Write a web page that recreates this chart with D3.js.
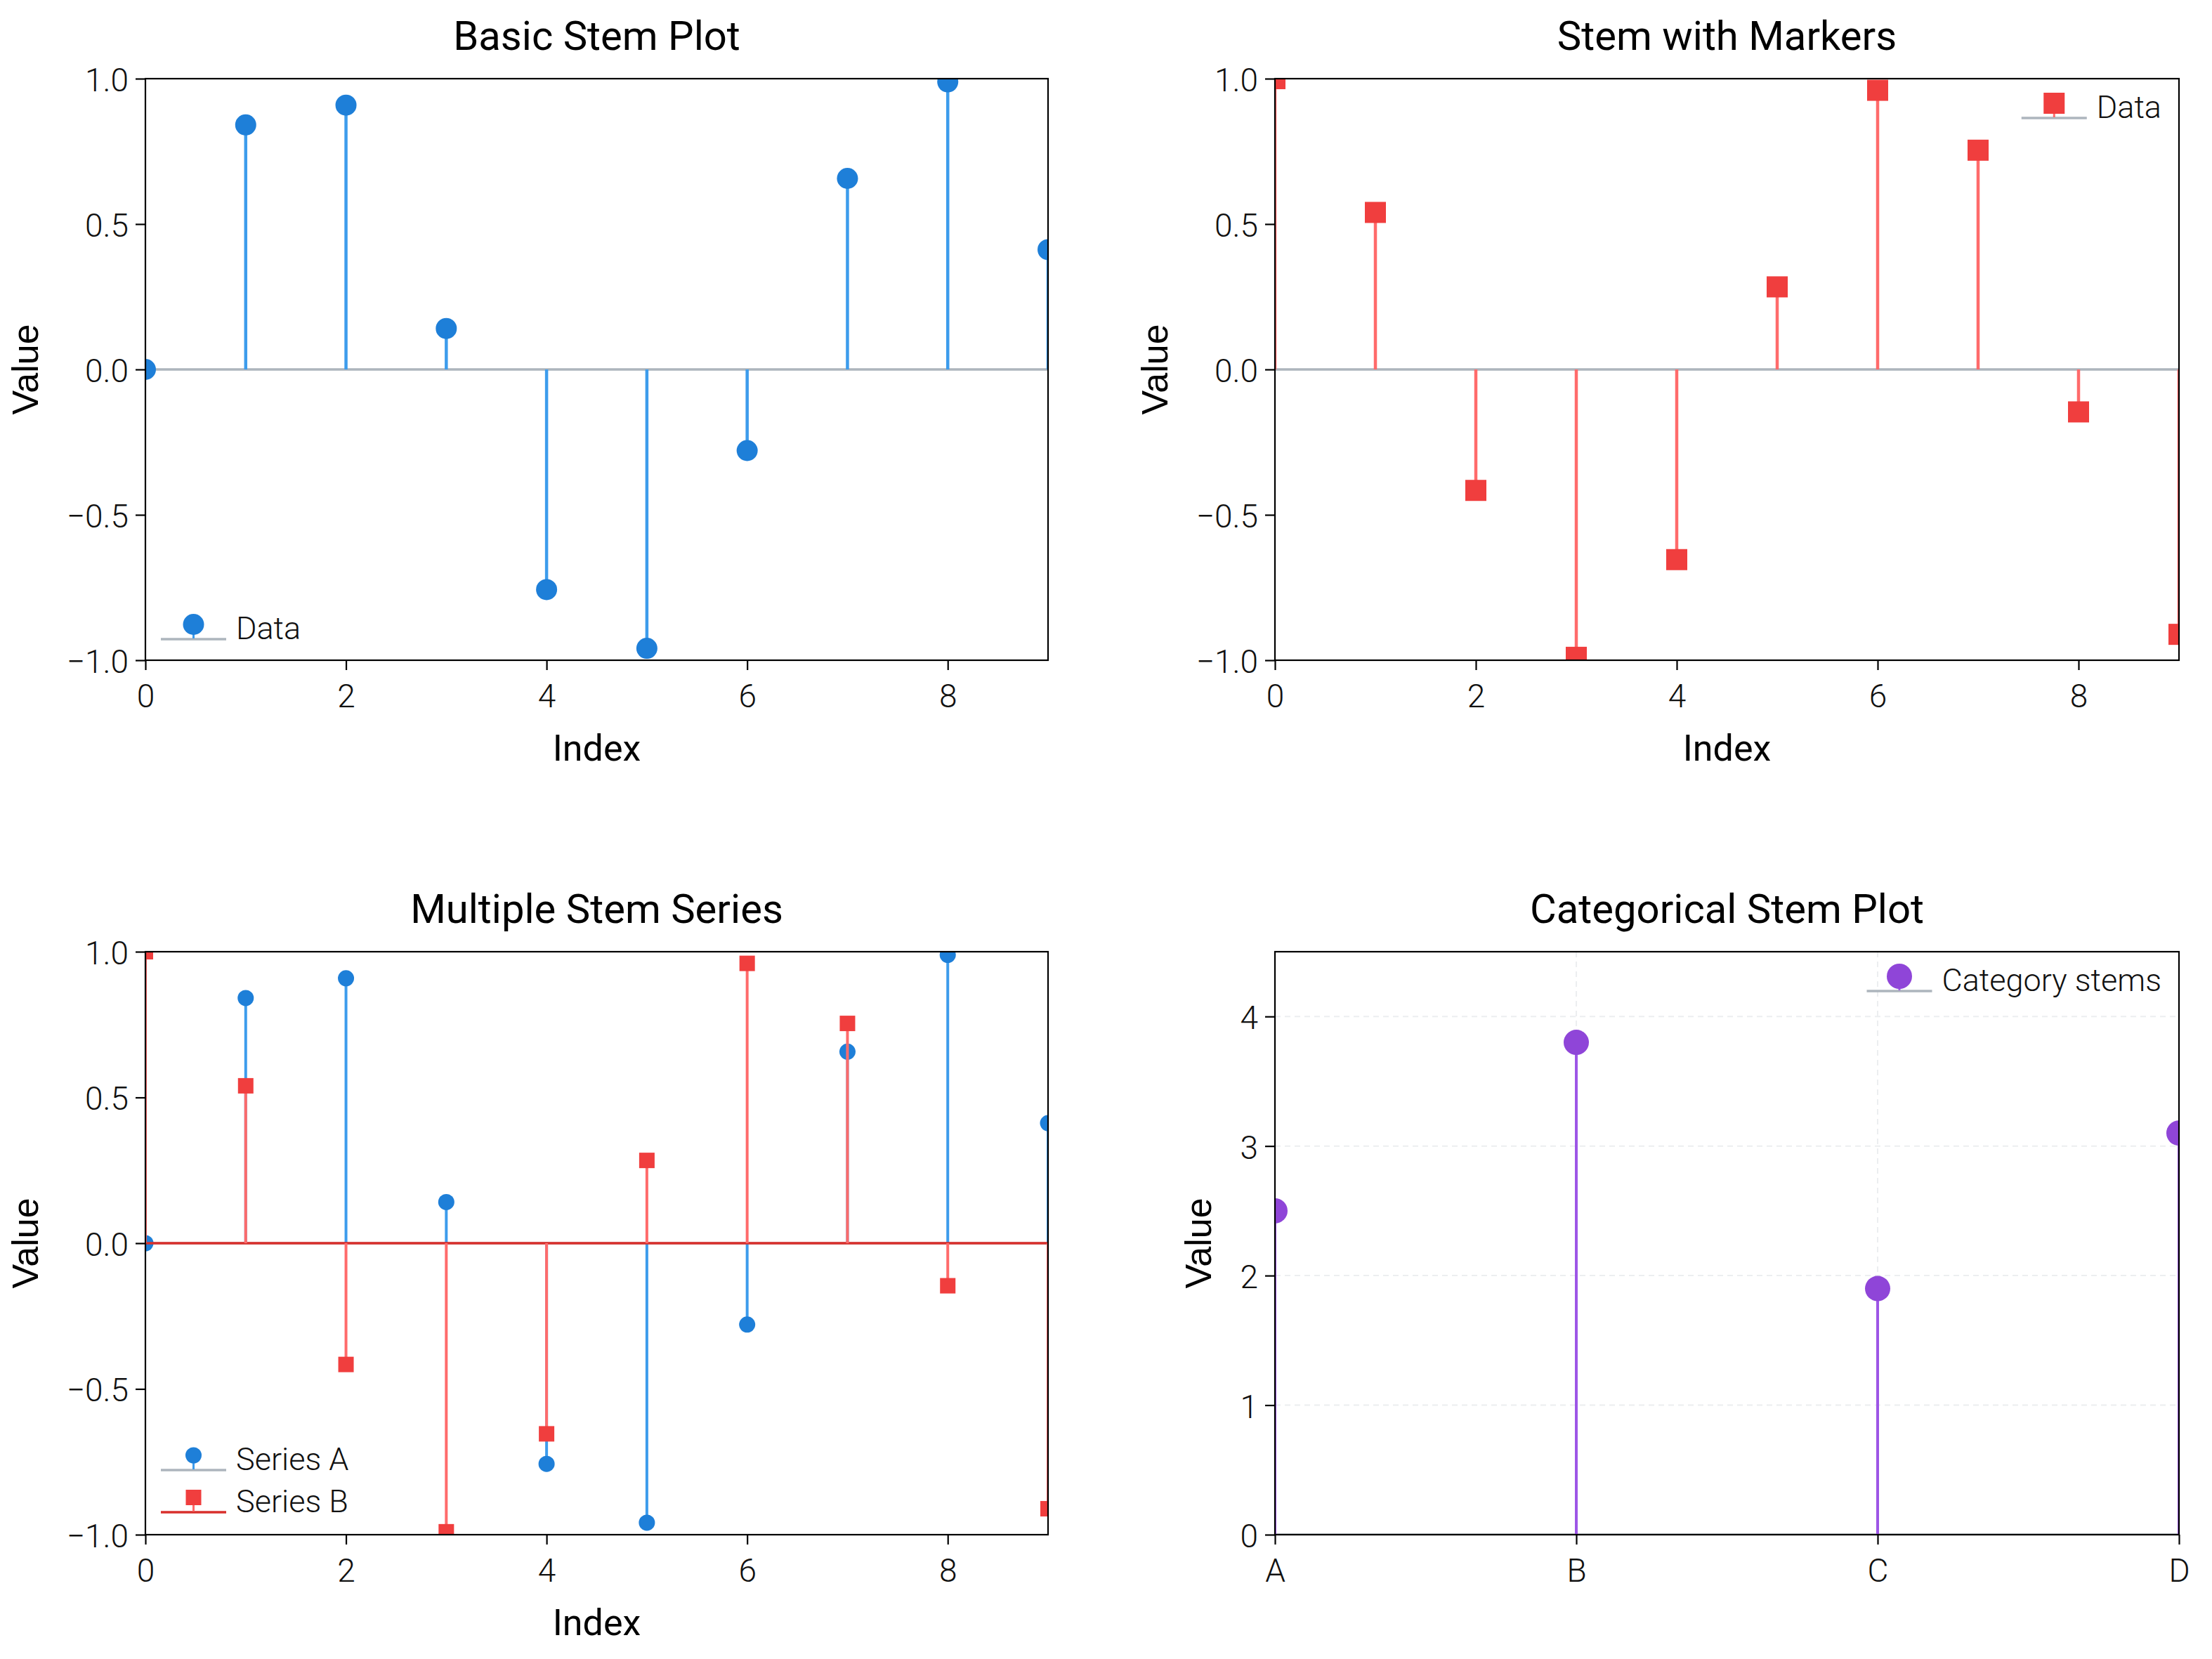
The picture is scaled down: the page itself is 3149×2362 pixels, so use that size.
<!DOCTYPE html>
<html>
<head>
<meta charset="utf-8">
<script src="https://cdn.jsdelivr.net/npm/d3@7"></script>
<style>
  html, body { margin: 0; padding: 0; background: #ffffff; }
  svg { display: block; }
</style>
</head>
<body>
<svg id="chart" width="3149" height="2362"></svg>
<script>
// ---------------- data ----------------
const indexValues = [0, 1, 2, 3, 4, 5, 6, 7, 8, 9];
const basicValues = [0.000, 0.841, 0.909, 0.141, -0.757, -0.959, -0.279, 0.657, 0.989, 0.412];
const markerValues = [1.000, 0.540, -0.416, -0.990, -0.654, 0.284, 0.960, 0.754, -0.146, -0.911];
const seriesAValues = [0.000, 0.841, 0.909, 0.141, -0.757, -0.959, -0.279, 0.657, 0.989, 0.412];
const seriesBValues = [1.000, 0.540, -0.416, -0.990, -0.654, 0.284, 0.960, 0.754, -0.146, -0.911];
const categories = ["A", "B", "C", "D"];
const categoryValues = [2.5, 3.8, 1.9, 3.1];
const indexTicks = [0, 2, 4, 6, 8];
const valueTicks = [-1.0, -0.5, 0.0, 0.5, 1.0];
const categoryTicks = [0, 1, 2, 3, 4];
const titles = ["Basic Stem Plot", "Stem with Markers", "Multiple Stem Series", "Categorical Stem Plot"];

// ---------------- styles ----------------
const C = {
  blueMarker: "#1e7fd8", blueStem: "#3d9cec",
  redMarker: "#f03e3e", redStem: "#ff6b6b", redBase: "#d9302c",
  purpleMarker: "#8f45d8", purpleStem: "#9d56e6",
  grey: "#adb5bd", grid: "#eceef0"
};
const TICK_FONT = "Roboto";
const svg = d3.select("#chart");
const defs = svg.append("defs");
const fmt1 = d3.format(".1f");

let clipId = 0;
function panel(o) {
  const g = svg.append("g");
  const id = "clip" + (clipId++);
  defs.append("clipPath").attr("id", id).append("rect")
    .attr("x", o.x0).attr("y", o.y0).attr("width", o.x1 - o.x0).attr("height", o.y1 - o.y0);

  // grid
  if (o.grid) {
    const gg = g.append("g").attr("stroke", C.grid).attr("stroke-width", 2).attr("stroke-dasharray", "8,6");
    gg.selectAll("line.h").data(o.yTicks).join("line").attr("class", "h")
      .attr("x1", o.x0).attr("x2", o.x1).attr("y1", d => o.y(d)).attr("y2", d => o.y(d));
    gg.selectAll("line.v").data(o.xTicks).join("line").attr("class", "v")
      .attr("x1", d => o.x(d)).attr("x2", d => o.x(d)).attr("y1", o.y0).attr("y2", o.y1);
  }

  const plot = g.append("g").attr("clip-path", `url(#${id})`);
  o.series.forEach(s => {
    plot.append("line").attr("x1", o.x0).attr("x2", o.x1)
      .attr("y1", o.y(0)).attr("y2", o.y(0))
      .attr("stroke", s.baseColor).attr("stroke-width", 3.5);
    plot.append("g").selectAll("line").data(s.values).join("line")
      .attr("x1", (d, i) => o.x(s.xs[i])).attr("x2", (d, i) => o.x(s.xs[i]))
      .attr("y1", o.y(0)).attr("y2", d => o.y(d))
      .attr("stroke", s.stemColor).attr("stroke-width", s.stemWidth);
    const mg = plot.append("g").attr("fill", s.markerColor);
    if (s.shape === "circle") {
      mg.selectAll("circle").data(s.values).join("circle")
        .attr("cx", (d, i) => o.x(s.xs[i])).attr("cy", d => o.y(d)).attr("r", s.size);
    } else {
      mg.selectAll("rect").data(s.values).join("rect")
        .attr("x", (d, i) => o.x(s.xs[i]) - s.size / 2).attr("y", d => o.y(d) - s.size / 2)
        .attr("width", s.size).attr("height", s.size);
    }
  });

  // frame
  g.append("rect").attr("x", o.x0).attr("y", o.y0).attr("width", o.x1 - o.x0).attr("height", o.y1 - o.y0)
    .attr("fill", "none").attr("stroke", "#000").attr("stroke-width", 2.2);

  // axes
  const ax = g.append("g").attr("transform", `translate(0,${o.y1})`)
    .call(d3.axisBottom(o.x).tickValues(o.xTicks).tickFormat(o.xFmt).tickSize(14).tickPadding(20));
  const ay = g.append("g").attr("transform", `translate(${o.x0},0)`)
    .call(d3.axisLeft(o.y).tickValues(o.yTicks).tickFormat(o.yFmt).tickSize(14).tickPadding(10));
  [ax, ay].forEach(a => {
    a.select(".domain").remove();
    a.selectAll(".tick line").attr("stroke", "#000").attr("stroke-width", 2.2);
    a.selectAll(".tick text").attr("font-family", TICK_FONT).attr("font-weight", 300)
      .attr("font-size", 46).attr("fill", "#111");
  });
  ay.selectAll(".tick text").attr("dy", "0.38em");

  // title
  const cx = (o.x0 + o.x1) / 2;
  g.append("text").attr("x", cx).attr("y", o.y0 - 41).attr("text-anchor", "middle")
    .attr("font-family", "Roboto").attr("font-size", 58).attr("fill", "#000").text(o.title);
  if (o.xLabel) {
    g.append("text").attr("x", cx).attr("y", o.y1 + 143).attr("text-anchor", "middle")
      .attr("font-family", "Roboto").attr("font-size", 52).attr("fill", "#000").text(o.xLabel);
  }
  // y label
  let minLeft = o.x0;
  ay.selectAll(".tick text").each(function () {
    const b = this.getBBox();
    minLeft = Math.min(minLeft, o.x0 + b.x);
  });
  const lx = minLeft - 41;
  const ly = (o.y0 + o.y1) / 2;
  g.append("text").attr("transform", `translate(${lx},${ly}) rotate(-90)`)
    .attr("text-anchor", "middle")
    .attr("font-family", "Liberation Sans, Arial, sans-serif").attr("font-size", 52).attr("fill", "#000")
    .text("Value");

  // legend
  const lg = g.append("g");
  const LW = 93;
  o.legend.items.forEach((it, k) => {
    const lineY = o.legend.y + k * 60;
    const t = lg.append("text").attr("y", lineY)
      .attr("font-family", "Roboto").attr("font-weight", 300).attr("font-size", 45).attr("fill", "#111")
      .text(it.label);
    let lineX0;
    if (o.legend.align === "right") {
      const w = t.node().getComputedTextLength();
      const tx = o.x1 - 25 - w;
      t.attr("x", tx);
      lineX0 = tx - 14 - LW;
    } else {
      lineX0 = o.x0 + 22;
      t.attr("x", lineX0 + LW + 14);
    }
    const mx = lineX0 + LW / 2, my = lineY - 21;
    lg.append("line").attr("x1", lineX0).attr("x2", lineX0 + LW).attr("y1", lineY).attr("y2", lineY)
      .attr("stroke", it.baseColor).attr("stroke-width", 3.5);
    lg.append("line").attr("x1", mx).attr("x2", mx).attr("y1", my).attr("y2", lineY - 1)
      .attr("stroke", it.stemColor).attr("stroke-width", 3);
    if (it.shape === "circle") {
      lg.append("circle").attr("cx", mx).attr("cy", my).attr("r", it.size).attr("fill", it.markerColor);
    } else {
      lg.append("rect").attr("x", mx - it.size / 2).attr("y", my - it.size / 2)
        .attr("width", it.size).attr("height", it.size).attr("fill", it.markerColor);
    }
  });
}

const L = { x0: 207, x1: 1492 }, R = { x0: 1815, x1: 3102 };
const T = { y0: 112, y1: 940 }, B = { y0: 1355, y1: 2185 };

function idxScale(p) { return d3.scaleLinear().domain([0, 9]).range([p.x0, p.x1]); }
function valScale(p) { return d3.scaleLinear().domain([-1, 1]).range([p.y1, p.y0]); }

// Panel 1
const s1 = { values: basicValues, xs: indexValues, shape: "circle", size: 15, stemWidth: 4.5,
  stemColor: C.blueStem, markerColor: C.blueMarker, baseColor: C.grey };
panel({ ...L, ...T, x: idxScale(L), y: valScale(T), xTicks: indexTicks, yTicks: valueTicks,
  xFmt: d3.format("d"), yFmt: fmt1, title: titles[0], xLabel: "Index",
  series: [s1], legend: { align: "left", y: T.y1 - 30, items: [{ ...s1, label: "Data" }] } });

// Panel 2
const s2 = { values: markerValues, xs: indexValues, shape: "square", size: 30, stemWidth: 4.5,
  stemColor: C.redStem, markerColor: C.redMarker, baseColor: C.grey };
panel({ ...R, ...T, x: idxScale(R), y: valScale(T), xTicks: indexTicks, yTicks: valueTicks,
  xFmt: d3.format("d"), yFmt: fmt1, title: titles[1], xLabel: "Index",
  series: [s2], legend: { align: "right", y: T.y0 + 56, items: [{ ...s2, label: "Data" }] } });

// Panel 3
const s3a = { values: seriesAValues, xs: indexValues, shape: "circle", size: 11.5, stemWidth: 4,
  stemColor: C.blueStem, markerColor: C.blueMarker, baseColor: C.grey };
const s3b = { values: seriesBValues, xs: indexValues, shape: "square", size: 22, stemWidth: 4,
  stemColor: C.redStem, markerColor: C.redMarker, baseColor: C.redBase };
panel({ ...L, ...B, x: idxScale(L), y: valScale(B), xTicks: indexTicks, yTicks: valueTicks,
  xFmt: d3.format("d"), yFmt: fmt1, title: titles[2], xLabel: "Index",
  series: [s3a, s3b], legend: { align: "left", y: B.y1 - 92,
    items: [{ ...s3a, label: "Series A" }, { ...s3b, label: "Series B" }] } });

// Panel 4
const xCat = d3.scalePoint().domain(categories).range([R.x0, R.x1]).padding(0);
const yCat = d3.scaleLinear().domain([0, 4.5]).range([B.y1, B.y0]);
const s4 = { values: categoryValues, xs: categories, shape: "circle", size: 18, stemWidth: 4,
  stemColor: C.purpleStem, markerColor: C.purpleMarker, baseColor: C.grey };
panel({ ...R, ...B, x: xCat, y: yCat, xTicks: categories, yTicks: categoryTicks,
  xFmt: d => d, yFmt: d3.format("d"), title: titles[3], xLabel: null, grid: true,
  series: [s4], legend: { align: "right", y: B.y0 + 56, items: [{ ...s4, label: "Category stems" }] } });
</script>
</body>
</html>
